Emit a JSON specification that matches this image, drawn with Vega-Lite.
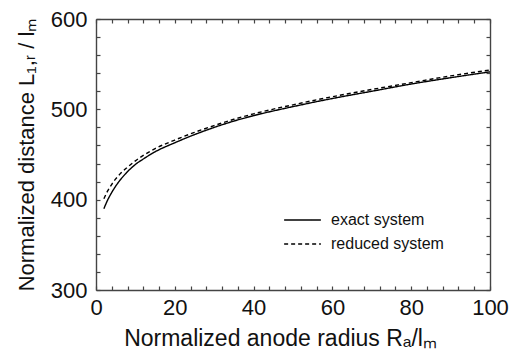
{
  "$schema": "https://vega.github.io/schema/vega-lite/v6.json",
  "width": 394,
  "height": 271,
  "autosize": {"type": "none"},
  "padding": {"left": 96, "top": 19, "right": 19, "bottom": 69},
  "background": "white",
  "data": {
    "values": [
      {"x": 2, "y": 390, "series": "exact system"},
      {"x": 3, "y": 400, "series": "exact system"},
      {"x": 4, "y": 408, "series": "exact system"},
      {"x": 5, "y": 415, "series": "exact system"},
      {"x": 6, "y": 421, "series": "exact system"},
      {"x": 8, "y": 431, "series": "exact system"},
      {"x": 10, "y": 439, "series": "exact system"},
      {"x": 12, "y": 445, "series": "exact system"},
      {"x": 15, "y": 453, "series": "exact system"},
      {"x": 20, "y": 463, "series": "exact system"},
      {"x": 25, "y": 472, "series": "exact system"},
      {"x": 30, "y": 480, "series": "exact system"},
      {"x": 35, "y": 487, "series": "exact system"},
      {"x": 40, "y": 493, "series": "exact system"},
      {"x": 50, "y": 503, "series": "exact system"},
      {"x": 60, "y": 512, "series": "exact system"},
      {"x": 70, "y": 520, "series": "exact system"},
      {"x": 80, "y": 528, "series": "exact system"},
      {"x": 90, "y": 535, "series": "exact system"},
      {"x": 100, "y": 541.5, "series": "exact system"},
      {"x": 2, "y": 401, "series": "reduced system"},
      {"x": 3, "y": 410, "series": "reduced system"},
      {"x": 4, "y": 417, "series": "reduced system"},
      {"x": 5, "y": 423, "series": "reduced system"},
      {"x": 6, "y": 428, "series": "reduced system"},
      {"x": 8, "y": 436, "series": "reduced system"},
      {"x": 10, "y": 443, "series": "reduced system"},
      {"x": 12, "y": 449, "series": "reduced system"},
      {"x": 15, "y": 456.5, "series": "reduced system"},
      {"x": 20, "y": 466, "series": "reduced system"},
      {"x": 25, "y": 474.5, "series": "reduced system"},
      {"x": 30, "y": 482, "series": "reduced system"},
      {"x": 35, "y": 489, "series": "reduced system"},
      {"x": 40, "y": 495, "series": "reduced system"},
      {"x": 50, "y": 505, "series": "reduced system"},
      {"x": 60, "y": 514, "series": "reduced system"},
      {"x": 70, "y": 522, "series": "reduced system"},
      {"x": 80, "y": 529.5, "series": "reduced system"},
      {"x": 90, "y": 537, "series": "reduced system"},
      {"x": 100, "y": 543.5, "series": "reduced system"}
    ]
  },
  "layer": [
    {
      "mark": {"type": "line", "color": "black", "strokeWidth": 1.4, "interpolate": "monotone"},
      "encoding": {
        "x": {
          "field": "x", "type": "quantitative",
          "scale": {"domain": [0, 100], "nice": false, "zero": false},
          "axis": {
            "orient": "bottom",
            "title": "Normalized anode radius Rₐ/lₘ",
            "titleX": 184,
            "titleFontSize": 23,
            "values": [0,4,8,12,16,20,24,28,32,36,40,44,48,52,56,60,64,68,72,76,80,84,88,92,96,100],
            "labelExpr": "datum.value % 20 === 0 ? datum.label : ''",
            "labelPadding": 11,
            "titlePadding": 9
          }
        },
        "y": {
          "field": "y", "type": "quantitative",
          "scale": {"domain": [300, 600], "nice": false, "zero": false},
          "axis": {
            "orient": "left",
            "title": "Normalized distance L₁,ᵣ / lₘ",
            "values": [300,320,340,360,380,400,420,440,460,480,500,520,540,560,580,600],
            "labelExpr": "datum.value % 100 === 0 ? datum.label : ''",
            "labelPadding": 13,
            "titlePadding": 12
          }
        },
        "strokeDash": {
          "field": "series", "type": "nominal",
          "scale": {"domain": ["exact system", "reduced system"], "range": [[1, 0], [4, 3]]},
          "legend": {
            "orient": "none",
            "legendX": 187,
            "legendY": 190,
            "title": null,
            "symbolType": "stroke",
            "symbolSize": 1350,
            "symbolStrokeColor": "black",
            "symbolStrokeWidth": 1.3,
            "clipHeight": 22,
            "labelFont": "Liberation Sans",
            "labelFontSize": 16,
            "labelColor": "#111",
            "labelOffset": 9
          }
        }
      }
    },
    {
      "mark": {"type": "line", "opacity": 0},
      "encoding": {
        "x": {
          "field": "x", "type": "quantitative",
          "axis": {
            "orient": "top", "title": null, "labels": false,
            "values": [0,4,8,12,16,20,24,28,32,36,40,44,48,52,56,60,64,68,72,76,80,84,88,92,96,100]
          }
        },
        "y": {
          "field": "y", "type": "quantitative",
          "axis": {
            "orient": "right", "title": null, "labels": false,
            "values": [300,320,340,360,380,400,420,440,460,480,500,520,540,560,580,600]
          }
        },
        "detail": {"field": "series", "type": "nominal"}
      }
    }
  ],
  "resolve": {"axis": {"x": "independent", "y": "independent"}},
  "config": {
    "view": {"stroke": null},
    "axis": {
      "grid": false,
      "domainColor": "#444",
      "domainWidth": 1.4,
      "tickColor": "#444",
      "tickWidth": 1.2,
      "tickSize": -4,
      "labelFont": "Liberation Sans",
      "labelFontSize": 22,
      "labelColor": "#111",
      "titleFont": "Liberation Sans",
      "titleFontSize": 22,
      "titleFontWeight": "normal",
      "titleColor": "#111",
      "labelFlush": false,
      "labelOverlap": false
    }
  }
}
